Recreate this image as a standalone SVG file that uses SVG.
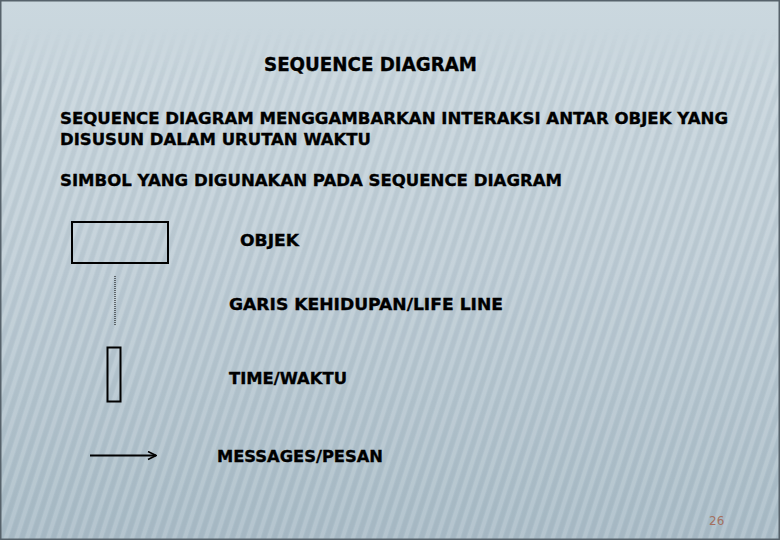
<svg xmlns="http://www.w3.org/2000/svg" width="780" height="540" viewBox="0 0 780 540">
  <defs>
    <linearGradient id="bg" x1="0" y1="0" x2="0" y2="1">
      <stop offset="0" stop-color="#cbd8df"/>
      <stop offset="0.5" stop-color="#bdccd5"/>
      <stop offset="1" stop-color="#a9bcc7"/>
    </linearGradient>
    <pattern id="stripes" width="10" height="10" patternUnits="userSpaceOnUse" patternTransform="rotate(18)">
      <rect x="0" y="0" width="4" height="10" fill="#ffffff" fill-opacity="0.13"/>
      <rect x="5" y="0" width="4" height="10" fill="#6f8594" fill-opacity="0.07"/>
    </pattern>
    <linearGradient id="fade" x1="0" y1="0" x2="0" y2="1">
      <stop offset="0" stop-color="#fff" stop-opacity="0"/>
      <stop offset="0.05" stop-color="#fff" stop-opacity="0"/>
      <stop offset="0.16" stop-color="#fff" stop-opacity="1"/>
      <stop offset="1" stop-color="#fff" stop-opacity="1"/>
    </linearGradient>
    <mask id="m">
      <rect x="0" y="0" width="780" height="540" fill="url(#fade)"/>
    </mask>
    <marker id="arrow" viewBox="0 0 10 10" refX="9" refY="5" markerWidth="10" markerHeight="10" markerUnits="userSpaceOnUse" orient="auto">
      <path d="M1,1 L9,5 L1,9" fill="none" stroke="#000" stroke-width="1.6"/>
    </marker>
    <style>
      .t { font-family: "DejaVu Sans", Verdana, sans-serif; font-weight: bold; fill: #000; stroke: #000; stroke-width: 0.35px; }
      .h { font-size: 19px; }
      .b { font-size: 16.5px; }
      .shape { fill: none; stroke: #000; stroke-width: 2; }
      .num { font-family: "DejaVu Sans", sans-serif; font-size: 12px; fill: #a5705f; }
    </style>
  </defs>

  <rect x="0" y="0" width="780" height="540" fill="url(#bg)"/>
  <rect x="0" y="0" width="780" height="540" fill="url(#stripes)" mask="url(#m)"/>
  <rect x="0.75" y="0.75" width="778.5" height="538.5" fill="none" stroke="#56626b" stroke-width="1.5"/>

  <g id="title">
    <text class="t h" x="264" y="71" textLength="213" lengthAdjust="spacingAndGlyphs">SEQUENCE DIAGRAM</text>
  </g>
  <g id="description">
    <text class="t b" x="60" y="123.5" textLength="668" lengthAdjust="spacingAndGlyphs">SEQUENCE DIAGRAM MENGGAMBARKAN INTERAKSI ANTAR OBJEK YANG</text>
    <text class="t b" x="60" y="144.5" textLength="311" lengthAdjust="spacingAndGlyphs">DISUSUN DALAM URUTAN WAKTU</text>
    <text class="t b" x="60" y="185.5" textLength="502" lengthAdjust="spacingAndGlyphs">SIMBOL YANG DIGUNAKAN PADA SEQUENCE DIAGRAM</text>
  </g>

  <g id="objek">
    <rect class="shape" x="72" y="222" width="96" height="41"/>
    <text class="t b" x="240" y="245.7" textLength="59" lengthAdjust="spacingAndGlyphs">OBJEK</text>
  </g>
  <g id="lifeline">
    <line x1="115" y1="276" x2="115" y2="325" stroke="#000" stroke-width="1" stroke-dasharray="1,1"/>
    <text class="t b" x="229" y="310" textLength="274" lengthAdjust="spacingAndGlyphs">GARIS KEHIDUPAN/LIFE LINE</text>
  </g>
  <g id="time">
    <rect class="shape" x="107.5" y="347.5" width="13" height="54"/>
    <text class="t b" x="229" y="384" textLength="118" lengthAdjust="spacingAndGlyphs">TIME/WAKTU</text>
  </g>
  <g id="connectors">
    <line x1="90" y1="455.5" x2="156" y2="455.5" stroke="#000" stroke-width="2" marker-end="url(#arrow)"/>
  </g>
  <g id="messages">
    <text class="t b" x="217" y="462" textLength="166" lengthAdjust="spacingAndGlyphs">MESSAGES/PESAN</text>
  </g>
  <g id="page">
    <text class="num" x="709" y="525">26</text>
  </g>
</svg>
